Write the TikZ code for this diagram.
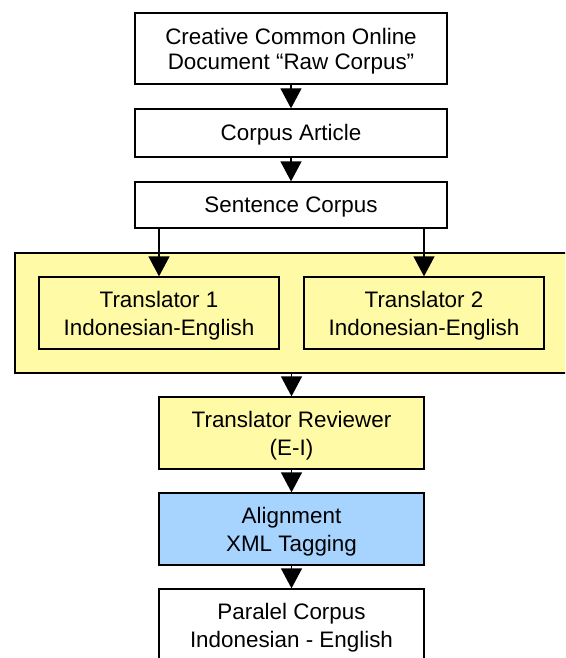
\documentclass[tikz,border=0pt]{standalone}
\usepackage{fontspec}
\setmainfont{Liberation Sans}
\usetikzlibrary{arrows.meta}
\definecolor{paleyellow}{RGB}{255,250,165}
\definecolor{paleblue}{RGB}{166,212,255}
\newcommand\firststrut[1]{\rule{0pt}{#1}}
\newcommand\laststrut{\rule[-6pt]{0pt}{0pt}}
\begin{document}
\begin{tikzpicture}[x=1pt,y=-1pt,
  box/.style={draw=black,line width=1.3pt,align=center,inner sep=0pt,
    font=\fontsize{22.4}{27.3}\selectfont},
  tight/.style={font=\fontsize{22.4}{25}\selectfont},
  arr/.style={line width=1.3pt,-{Triangle[length=20pt,width=21pt]}}]
\useasboundingbox (0,0) rectangle (565,658);
\clip (0,0) rectangle (565,658);
\node[box,tight,fill=white,minimum width=312pt,minimum height=71pt] (b1) at (291,48.5) {\firststrut{24pt}Creative Common Online\\Document “Raw Corpus”\laststrut};
\node[box,fill=white,minimum width=312pt,minimum height=48pt] (b2) at (291,133) {\firststrut{20pt}Corpus Article\laststrut};
\node[box,fill=white,minimum width=312pt,minimum height=46pt] (b3) at (291,205) {\firststrut{20pt}Sentence Corpus\laststrut};
\node[box,fill=paleyellow,minimum width=552pt,minimum height=120pt] (big) at (291,313) {};
\node[box,fill=paleyellow,minimum width=240pt,minimum height=72pt] (t1) at (159,313) {\firststrut{22.8pt}Translator 1\\Indonesian-English\laststrut};
\node[box,fill=paleyellow,minimum width=240pt,minimum height=72pt] (t2) at (424,313) {\firststrut{22.8pt}Translator 2\\Indonesian-English\laststrut};
\node[box,fill=paleyellow,minimum width=265pt,minimum height=72pt] (rev) at (291.5,433) {\firststrut{22.8pt}Translator Reviewer\\(E-I)\laststrut};
\node[box,fill=paleblue,minimum width=265pt,minimum height=72pt] (al) at (291.5,529) {\firststrut{22.8pt}Alignment\\XML Tagging\laststrut};
\node[box,fill=white,minimum width=265pt,minimum height=72pt] (par) at (291.5,625) {\firststrut{22.8pt}Paralel Corpus\\Indonesian - English\laststrut};
\draw[arr] (b1.south) -- (b2.north);
\draw[arr] (b2.south) -- (b3.north);
\draw[arr] (b3.south -| t1.north) -- (t1.north);
\draw[arr] (b3.south -| t2.north) -- (t2.north);
\draw[arr] (big.south -| rev.north) -- (rev.north);
\draw[arr] (rev.south) -- (al.north);
\draw[arr] (al.south) -- (par.north);
\end{tikzpicture}
\end{document}
